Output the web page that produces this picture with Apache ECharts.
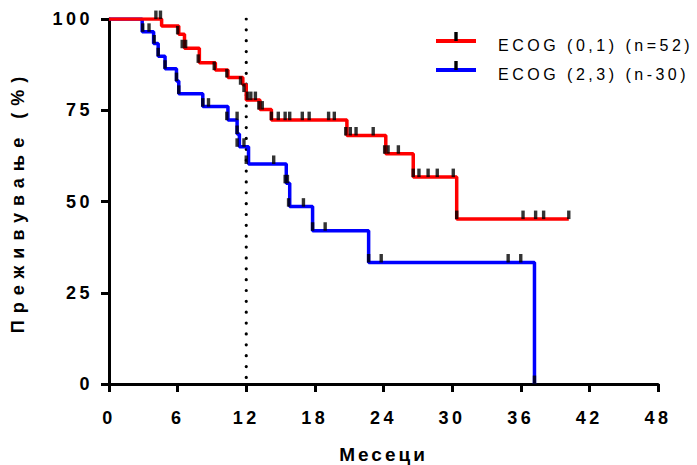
<!DOCTYPE html>
<html><head><meta charset="utf-8">
<script src="https://cdn.jsdelivr.net/npm/echarts@6/dist/echarts.min.js"></script>
<style>html,body{margin:0;padding:0;background:#fff}#c{width:697px;height:465px}</style>
</head><body><div id="c"></div>
<script>
// ---- data ----
const seriesNames = ['ECOG (0,1) (n=52)', 'ECOG (2,3) (n-30)'];
const xAxisName = 'Месеци';
const yAxisName = 'Преживување (%)';
const xMin = 0, xMax = 48, xStep = 6;
const yMin = 0, yMax = 100, yStep = 25;
const refLineTime = 12;

const redTimes = [0, 4.6, 6.1, 6.6, 7.9, 9.3, 10.4, 11.7, 12.0, 13.2, 14.2, 20.8, 24.2, 26.6, 30.4, 40.2];
const redSurv  = [100, 98.1, 95.8, 92.0, 88.0, 86.0, 84.0, 82.0, 77.8, 75.2, 72.3, 68.1, 63.1, 56.7, 45.2, 45.2];
const redCensorTimes = [4.1, 4.5, 6.0, 6.4, 6.7, 7.8, 9.2, 10.3, 11.5, 11.8, 12.1, 12.4, 12.8, 13.1, 13.4, 14.2, 14.8, 15.4, 15.8, 16.9, 17.5, 19.2, 19.7, 20.7, 21.1, 21.6, 23.1, 24.1, 24.4, 25.3, 26.6, 27.1, 27.9, 28.7, 30.1, 30.4, 36.2, 37.3, 38.0, 40.2];
const redCensorSurv  = [100, 100, 95.8, 92.0, 92.0, 88.0, 86.0, 84.0, 82.0, 80.0, 77.8, 77.8, 77.8, 75.2, 75.2, 72.3, 72.3, 72.3, 72.3, 72.3, 72.3, 72.3, 72.3, 68.1, 68.1, 68.1, 68.1, 63.1, 63.1, 63.1, 56.7, 56.7, 56.7, 56.7, 56.7, 45.2, 45.2, 45.2, 45.2, 45.2];

const blueTimes = [0, 2.9, 3.9, 4.3, 4.9, 5.9, 6.1, 8.2, 10.4, 11.2, 11.4, 12.2, 15.5, 15.8, 17.8, 22.7, 37.2, 37.2];
const blueSurv  = [100, 96.5, 93.3, 89.8, 86.4, 83.0, 79.5, 76.0, 72.3, 68.5, 65.0, 60.3, 55.0, 48.6, 42.0, 33.3, 33.3, 0];
const blueCensorTimes = [2.95, 3.5, 3.95, 4.3, 4.9, 5.9, 6.1, 8.2, 8.7, 10.3, 11.2, 11.2, 11.2, 11.8, 12.0, 14.4, 15.4, 15.6, 15.7, 17.0, 17.8, 18.9, 22.7, 23.8, 34.9, 36.0, 37.2];
const blueCensorSurv  = [96.5, 96.5, 93.3, 89.8, 86.4, 83.0, 79.5, 76.0, 76.0, 72.3, 72.3, 68.5, 65.0, 65.0, 60.3, 60.3, 55.0, 55.0, 48.6, 48.6, 42.0, 42.0, 33.3, 33.3, 33.3, 33.3, 0];

// ---- chart ----
const zip = (a, b) => a.map((v, i) => [v, b[i]]);
const FONT = '"Liberation Sans", Arial, sans-serif';
const RED = '#ff0000', BLUE = '#0000ff';

const chart = echarts.init(document.getElementById('c'), null, {renderer: 'svg', width: 697, height: 465});

function spaceText() {
  document.querySelectorAll('#c text').forEach(t => {
    const s = t.textContent;
    let ls = null;
    if (seriesNames.includes(s)) ls = 3.5;
    else if (s === yAxisName) ls = 7;
    else if (s === xAxisName) ls = 3;
    else if (/^\d+$/.test(s)) ls = 3.5;
    if (ls !== null) t.setAttribute('letter-spacing', ls + 'px');
  });
}
chart.on('finished', spaceText);

const axisCommon = {
  axisLine: {show: true, lineStyle: {color: '#000', width: 3}},
  axisTick: {show: true, length: 8, lineStyle: {color: '#000', width: 3}},
  splitLine: {show: false},
};

function legendItem(i, y, color) {
  return [
    {type: 'line', shape: {x1: 436, y1: y, x2: 476, y2: y}, style: {stroke: color, lineWidth: 4}},
    {type: 'rect', shape: {x: 454.3, y: y - 9, width: 3.4, height: 9}, style: {fill: '#000'}},
    {type: 'text', x: 498, y: y + 4, style: {text: seriesNames[i], fill: '#000', font: '16px ' + FONT, verticalAlign: 'middle', align: 'left'}}
  ];
}

chart.setOption({
  animation: false,
  backgroundColor: '#fff',
  grid: {left: 109, right: 39, top: 19, bottom: 81, containLabel: false, outerBoundsMode: 'none'},
  xAxis: Object.assign({}, axisCommon, {
    type: 'value', min: xMin, max: xMax, interval: xStep,
    name: xAxisName, nameLocation: 'middle', nameGap: 61,
    nameTextStyle: {color: '#000', fontWeight: 'bold', fontFamily: FONT, fontSize: 19, lineHeight: 19},
    axisLabel: {color: '#000', fontWeight: 'bold', fontFamily: FONT, fontSize: 18, margin: 25}
  }),
  yAxis: Object.assign({}, axisCommon, {
    type: 'value', min: yMin, max: yMax, interval: yStep,
    name: yAxisName, nameLocation: 'middle', nameGap: 82,
    nameTextStyle: {color: '#000', fontWeight: 'bold', fontFamily: FONT, fontSize: 18},
    axisLabel: {color: '#000', fontWeight: 'bold', fontFamily: FONT, fontSize: 18, margin: 16}
  }),
  graphic: [].concat(legendItem(0, 41, RED), legendItem(1, 70, BLUE)),
  series: [
    {
      type: 'line', silent: true, symbol: 'none', z: 1,
      data: [[refLineTime, yMax], [refLineTime, yMin]],
      lineStyle: {color: '#000', width: 3.2, type: [0.01, 10.85], cap: 'round'}
    },
    {
      name: seriesNames[0], type: 'line', step: 'end', symbol: 'none', z: 3,
      data: zip(redTimes, redSurv),
      lineStyle: {color: RED, width: 3.5}
    },
    {
      name: seriesNames[1], type: 'line', step: 'end', symbol: 'none', z: 2,
      data: zip(blueTimes, blueSurv),
      lineStyle: {color: BLUE, width: 3.5}
    },
    {
      type: 'scatter', z: 5, symbol: 'rect', symbolSize: [3.4, 8.5], symbolOffset: [0, -4.2],
      itemStyle: {color: '#000'}, data: zip(redCensorTimes, redCensorSurv)
    },
    {
      type: 'scatter', z: 5, symbol: 'rect', symbolSize: [3.4, 8.5], symbolOffset: [0, -4.2],
      itemStyle: {color: '#000'}, data: zip(blueCensorTimes, blueCensorSurv)
    }
  ]
});
spaceText();
setTimeout(spaceText, 50);
setTimeout(spaceText, 300);
</script>
</body></html>
